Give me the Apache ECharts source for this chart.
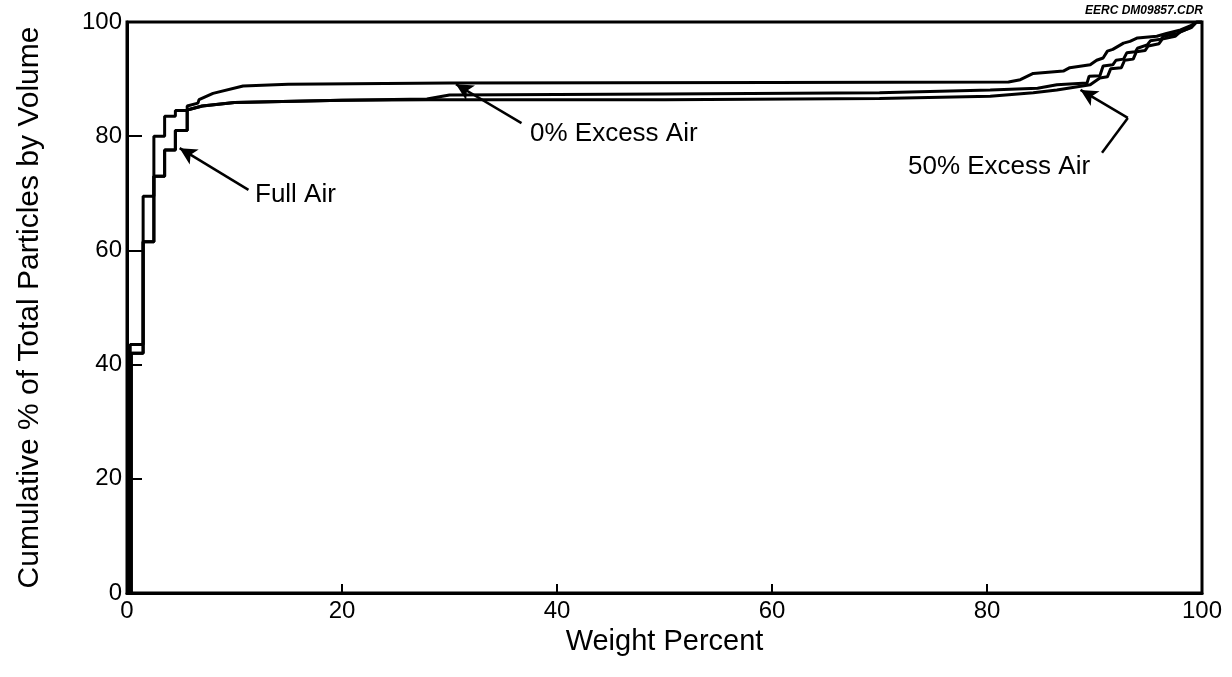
<!DOCTYPE html>
<html>
<head>
<meta charset="utf-8">
<title>Cumulative % of Total Particles by Volume</title>
<script src="https://cdn.jsdelivr.net/npm/echarts@6.0.0/dist/echarts.min.js"></script>
<style>
  html, body { margin: 0; padding: 0; background: #fff; }
  #chart { width: 1232px; height: 677px; }
</style>
</head>
<body>
<div id="chart"></div>
<script>
// tick labels
var xTicks = [0, 20, 40, 60, 80, 100];
var yTicks = [0, 20, 40, 60, 80, 100];

// 0% Excess Air (upper curve)
var zeroX = [0.3, 0.3, 1.5, 1.5, 2.5, 2.5, 3.5, 3.5, 4.5, 4.5, 5.6, 5.6, 6.6, 6.7, 8, 10.8, 15, 30, 60, 82, 83.1, 84.3, 87.1, 87.7, 89.6, 90.2, 90.8, 91.2, 91.7, 92.7, 93.3, 94, 95.8, 96.7, 98, 98.9, 99.5, 100];
var zeroY = [0, 43.5, 43.5, 69.5, 69.5, 80, 80, 83.5, 83.5, 84.5, 84.5, 85.3, 85.8, 86.4, 87.5, 88.8, 89.1, 89.3, 89.4, 89.5, 89.9, 91, 91.4, 92, 92.5, 93.3, 93.7, 94.9, 95.2, 96.3, 96.6, 97.2, 97.5, 98, 98.6, 99.3, 100, 100];

// 50% Excess Air (middle curve)
var fiftyX = [0.4, 0.4, 1.5, 1.5, 2.5, 2.5, 3.5, 3.5, 4.5, 4.5, 5.6, 5.6, 7, 10, 20, 27.9, 30, 50, 70, 80.3, 84.7, 86.5, 89.3, 89.5, 90.5, 90.8, 91.7, 92, 92.7, 93, 93.8, 94, 94.9, 95.2, 96.2, 96.4, 97.7, 98.9, 99.5, 100];
var fiftyY = [0, 42, 42, 61.5, 61.5, 73, 73, 77.6, 77.6, 81, 81, 84.6, 85.3, 85.9, 86.3, 86.5, 87.2, 87.4, 87.6, 88.1, 88.4, 89, 89.3, 90.5, 90.6, 92.3, 92.5, 93.3, 93.5, 94.6, 94.8, 95.4, 96, 96.7, 97, 97.5, 98, 99, 100, 100];

// Full Air (lower curve)
var fullX = [0.4, 0.4, 1.5, 1.5, 2.5, 2.5, 3.5, 3.5, 4.5, 4.5, 5.6, 5.6, 7, 10, 20, 28, 50, 70, 80.3, 84.3, 86.5, 89.6, 90.5, 91.2, 91.5, 92.5, 92.8, 93.6, 93.9, 94.7, 95, 96, 96.3, 97.5, 98, 99, 99.5, 100];
var fullY = [0, 42, 42, 61.5, 61.5, 73, 73, 77.6, 77.6, 81, 81, 84.6, 85.3, 85.9, 86.3, 86.4, 86.4, 86.6, 87, 87.6, 88.1, 89, 90.2, 90.4, 91.8, 92, 93.3, 93.5, 94.8, 95, 95.8, 96.2, 97, 97.5, 98.3, 99, 100, 100];

var black = '#000';
var font = '"Liberation Sans", Arial, sans-serif';

function pairs(xs, ys) {
  var out = [];
  for (var i = 0; i < xs.length; i++) {
    out.push([xs[i], ys[i]]);
  }
  return out;
}

function curve(name, xs, ys, width) {
  return {
    name: name,
    type: 'line',
    showSymbol: false,
    animation: false,
    lineStyle: { color: black, width: width },
    data: pairs(xs, ys)
  };
}

// arrows drawn in data space so they follow the axes
function arrow(from, to, head) {
  return {
    type: 'line',
    data: [],
    markLine: {
      silent: true,
      animation: false,
      symbol: head ? ['none', 'arrow'] : ['none', 'none'],
      symbolSize: [13, 17],
      label: { show: false },
      lineStyle: { color: black, width: 2.5, type: 'solid' },
      data: [[{ coord: from }, { coord: to }]]
    }
  };
}

function label(text, x, y, size, extra) {
  var st = {
    text: text,
    font: (extra || '') + ' ' + size + 'px ' + font,
    fill: black,
    textAlign: 'left',
    textVerticalAlign: 'middle'
  };
  return { type: 'text', left: x, top: y - size / 2, style: st };
}

var axisCommon = {
  type: 'value',
  min: 0,
  max: 100,
  interval: 20,
  axisLine: { show: true, lineStyle: { color: black, width: 3 } },
  splitLine: { show: false },
  axisLabel: { color: black, fontSize: 24, fontFamily: font },
  nameTextStyle: { color: black, fontSize: 29, fontFamily: font }
};

var option = {
  backgroundColor: '#fff',
  animation: false,
  grid: {
    left: 127, right: 30, top: 22, bottom: 84,
    show: true, borderColor: black, borderWidth: 3, backgroundColor: 'transparent'
  },
  xAxis: Object.assign({}, axisCommon, {
    name: 'Weight Percent',
    nameLocation: 'middle',
    nameGap: 20,
    axisTick: { show: true, inside: true, length: 9, lineStyle: { color: black, width: 2 } },
    axisLabel: Object.assign({}, axisCommon.axisLabel, { margin: 6 })
  }),
  yAxis: Object.assign({}, axisCommon, {
    name: 'Cumulative % of Total Particles by Volume',
    nameLocation: 'middle',
    nameGap: 82,
    nameTextStyle: { color: black, fontSize: 30, fontFamily: font },
    axisTick: { show: true, inside: true, length: 15, lineStyle: { color: black, width: 2 } },
    axisLabel: Object.assign({}, axisCommon.axisLabel, { margin: 5 })
  }),
  series: [
    curve('0% Excess Air', zeroX, zeroY, 3),
    curve('50% Excess Air', fiftyX, fiftyY, 3),
    curve('Full Air', fullX, fullY, 3),
    arrow([11.3, 70.6], [4.9, 77.9], true),
    arrow([36.7, 82.3], [30.6, 89.1], true),
    arrow([90.7, 77.1], [93.1, 83.2], false),
    arrow([93.1, 83.2], [88.7, 88.1], true)
  ],
  graphic: [
    label('Full Air', 255, 195, 26),
    label('0% Excess Air', 530, 134, 26),
    label('50% Excess Air', 908, 167, 26),
    {
      type: 'text', right: 29, top: 5,
      style: { text: 'EERC DM09857.CDR', font: 'italic bold 12px ' + font, fill: black, textAlign: 'right' }
    }
  ]
};

var myChart = echarts.init(document.getElementById('chart'));
myChart.setOption(option);
</script>
</body>
</html>
